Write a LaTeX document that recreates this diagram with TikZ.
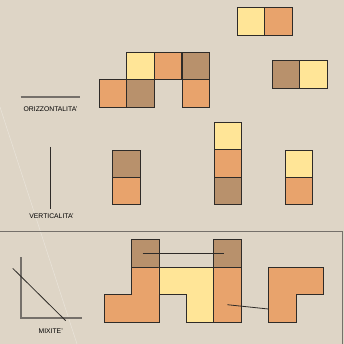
\documentclass[tikz,border=0pt]{standalone}
\usepackage{fontspec}
\setmainfont{Liberation Sans}
\definecolor{bg}{HTML}{DED5C6}
\definecolor{cyel}{HTML}{FFE597}
\definecolor{cora}{HTML}{E8A36C}
\definecolor{cbro}{HTML}{B8916C}
\definecolor{edge}{HTML}{2E2B28}
\definecolor{gline}{HTML}{75706A}
\begin{document}
\begin{tikzpicture}[x=1pt,y=-1pt,
  tile/.style={draw=edge,line width=0.8pt,minimum size=27.4pt,inner sep=0pt,anchor=north west,outer sep=0pt},
  tyel/.style={tile,fill=cyel},
  tora/.style={tile,fill=cora},
  tbro/.style={tile,fill=cbro},
  polyshape/.style={draw=edge,line width=0.8pt,line join=miter},
  lbl/.style={font=\fontsize{6.8}{8}\selectfont,inner sep=0pt},
  grayline/.style={draw=gline,line width=1.1pt},
  darkline/.style={draw=edge,line width=0.8pt}]
\fill[bg] (0,0) rectangle (344,344);
\useasboundingbox (0,0) rectangle (344,344);
\draw[white,opacity=0.35,line width=0.5pt] (0,107) -- (77,344);
% top pair
\node[tyel] (a1) at (237,7.7) {};
\node[tora] (a2) at (264.5,7.7) {};
% top-left group
\node[tyel] (b1) at (126.7,52.3) {};
\node[tora] (b2) at (154.2,52.3) {};
\node[tbro] (b3) at (181.9,52.3) {};
\node[tora] (b4) at (181.9,79.8) {};
\node[tora] (b5) at (99.3,79.8) {};
\node[tbro] (b6) at (126.7,79.8) {};
% right pair
\node[tbro] (c1) at (272,60.7) {};
\node[tyel] (c2) at (299.5,60.7) {};
% horizontality
\coordinate (h1) at (20.7,97);
\coordinate (h2) at (79.7,97);
\draw[grayline] (h1) -- (h2);
\node[lbl] (th) at (50.5,109) {ORIZZONTALITA'};
% verticality
\coordinate (v1) at (50.3,147);
\coordinate (v2) at (50.3,208.7);
\draw[darkline] (v1) -- (v2);
\node[lbl] (tv) at (51.5,216.5) {VERTICALITA'};
\node[tbro] (d1) at (112.7,150) {};
\node[tora] (d2) at (112.7,177.4) {};
\node[tyel] (e1) at (214.3,122.3) {};
\node[tora] (e2) at (214.3,149.7) {};
\node[tbro] (e3) at (214.3,177.2) {};
\node[tyel] (f1) at (285,150) {};
\node[tora] (f2) at (285,177.4) {};
% separator frame
\draw[gline,line width=0.9pt] (0,231) -- (342.5,231) -- (342.5,344);
% mixite
\coordinate (m0) at (21,318);
\draw[grayline] (21,257.3) -- (m0) -- (82,318);
\draw[darkline] (12.7,268.3) -- (65.7,320.7);
\node[lbl] (tm) at (50.7,331) {MIXITE'};
% bottom composition
\node[tbro] (g1) at (131.5,239.5) {};
\node[tbro] (g2) at (213.5,239.5) {};
\draw[polyshape,fill=cora] (104,294.7) -- (131.5,294.7) -- (131.5,267.3) -- (158.9,267.3) -- (158.9,322) -- (104,322) -- cycle;
\draw[polyshape,fill=cyel] (158.9,267.3) -- (213.5,267.3) -- (213.5,322) -- (186,322) -- (186,294.7) -- (158.9,294.7) -- cycle;
\draw[polyshape,fill=cora] (268.3,267.3) -- (323.3,267.3) -- (323.3,294.7) -- (296,294.7) -- (296,322) -- (268.3,322) -- cycle;
\node[tile,fill=cora,minimum height=54.7pt,minimum width=27.4pt] (g3) at (213.5,267.3) {};
\coordinate (l1) at (142.7,253.3);
\coordinate (l2) at (224,253.3);
\draw[darkline] (l1) -- (l2);
\coordinate (l3) at (227.3,304.7);
\coordinate (l4) at (268.3,309);
\draw[darkline] (l3) -- (l4);
\end{tikzpicture}
\end{document}
